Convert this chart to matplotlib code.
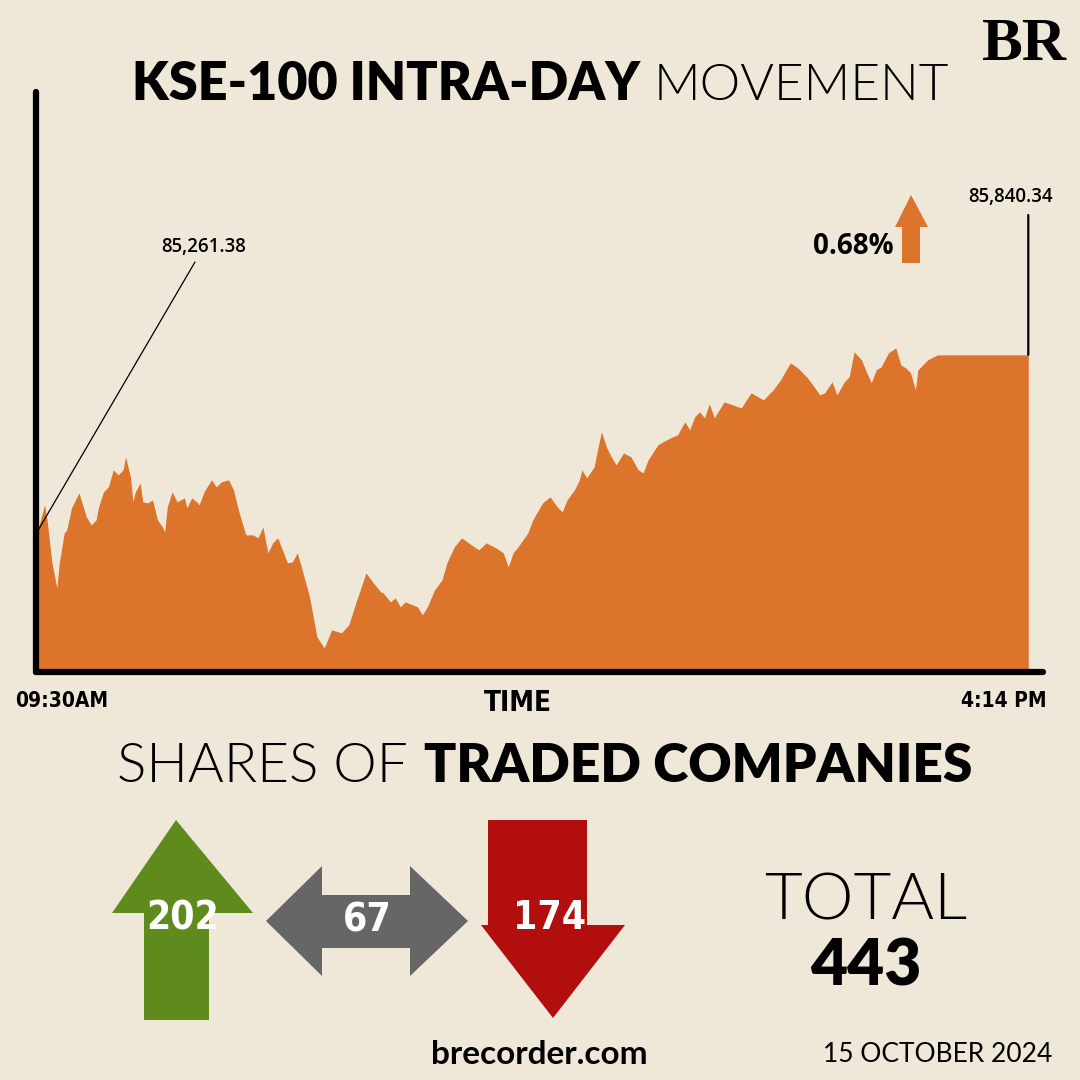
import matplotlib.pyplot as plt
from matplotlib.patches import Polygon

# KSE-100 intra-day, minutes after the 09:30 open
minutes = [0, 3, 4, 6, 8, 9, 11, 12, 14, 17, 20, 22, 24, 25, 27, 29, 31, 33, 35, 36,
           38, 39, 40, 42, 43, 45, 47, 49, 51, 52, 53, 55, 57, 60, 61, 63, 65, 66, 68, 71,
           73, 75, 78, 80, 82, 85, 88, 90, 92, 94, 96, 98, 102, 104, 106, 108, 111, 114, 117, 120,
           124, 127, 130, 134, 137, 140, 141, 144, 146, 148, 150, 153, 155, 157, 159, 162, 165, 167, 170, 173,
           177, 180, 183, 187, 190, 192, 194, 196, 200, 202, 206, 209, 212, 214, 216, 219, 221, 222, 224, 227,
           229, 230, 232, 234, 236, 239, 242, 245, 247, 249, 253, 255, 259, 261, 264, 266, 268, 270, 272, 274,
           276, 280, 287, 291, 296, 300, 303, 307, 310, 314, 317, 319, 321, 324, 326, 329, 331, 333, 336, 338,
           340, 342, 344, 347, 350, 352, 354, 356, 358, 359, 363, 367, 404]
index_vals = [85261.38, 85349.7, 85300.6, 85160.0, 85078.2, 85160.0, 85258.1, 85267.9, 85339.9, 85388.9,
              85310.4, 85284.3, 85300.6, 85343.1, 85392.2, 85408.5, 85464.1, 85447.8, 85464.1, 85506.7,
              85441.2, 85359.5, 85392.2, 85421.6, 85359.5, 85356.2, 85366.0, 85300.6, 85277.7, 85261.4,
              85343.1, 85392.2, 85359.5, 85372.5, 85339.9, 85372.5, 85359.5, 85349.7, 85392.2, 85431.4,
              85408.5, 85424.9, 85431.4, 85398.7, 85333.3, 85251.5, 85251.5, 85241.7, 85277.7, 85192.6,
              85225.3, 85241.7, 85160.0, 85163.2, 85192.6, 85137.0, 85048.7, 84917.9, 84881.9, 84940.8,
              84931.0, 84957.1, 85032.4, 85127.2, 85094.5, 85065.1, 85061.8, 85032.4, 85045.4, 85016.0,
              85032.4, 85022.6, 85016.0, 84989.8, 85016.0, 85071.6, 85104.3, 85160.0, 85212.3, 85241.7,
              85218.8, 85202.5, 85225.3, 85209.0, 85192.6, 85146.8, 85192.6, 85212.3, 85258.1, 85300.6,
              85356.2, 85375.8, 85343.1, 85326.8, 85366.0, 85398.7, 85431.4, 85464.1, 85438.0, 85473.9,
              85552.5, 85588.4, 85539.4, 85506.7, 85480.5, 85519.7, 85506.7, 85464.1, 85454.3, 85496.8,
              85545.9, 85555.7, 85572.1, 85578.6, 85621.1, 85595.0, 85637.5, 85653.9, 85634.2, 85680.0,
              85634.2, 85686.6, 85666.9, 85716.0, 85693.1, 85725.8, 85758.6, 85814.2, 85797.8, 85765.1,
              85732.4, 85709.5, 85716.0, 85752.0, 85709.5, 85752.0, 85768.4, 85850.2, 85824.0, 85784.7,
              85748.7, 85791.3, 85801.1, 85846.9, 85863.2, 85807.6, 85797.8, 85781.5, 85725.8, 85791.3,
              85824.0, 85840.34, 85840.34]

open_label = "85,261.38"
close_label = "85,840.34"
change_label = "0.68%"
time_labels = ["09:30AM", "4:14 PM"]

share_names = ["up", "unchanged", "down"]
share_counts = [202, 67, 174]
share_colors = ["#5f8a1c", "#666666", "#b20e0e"]

bg = "#efe8d8"
orange = "#dc742c"
bold_font = ["Lato", "DejaVu Sans"]
wide_font = ["Open Sans", "DejaVu Sans"]
narrow_font = ["DejaVu Sans"]

fig = plt.figure(figsize=(10.8, 10.8), dpi=100)
fig.patch.set_facecolor(bg)

# main area chart
ax = fig.add_axes([36 / 1080, 1 - 672 / 1080, 1007 / 1080, 580 / 1080])
ax.set_facecolor("none")
ax.fill_between(minutes, index_vals, 84700, color=orange, lw=0)
ax.set_xlim(-0.5, 410)
ax.set_ylim(84803, 86700)
ax.set_xticks([])
ax.set_yticks([])
for s in ["top", "right"]:
    ax.spines[s].set_visible(False)
for s in ["left", "bottom"]:
    ax.spines[s].set_linewidth(4.5)
    ax.spines[s].set_color("black")
    ax.spines[s].set_capstyle("round")

# open / close callouts
ax.annotate("", xy=(minutes[0], index_vals[0]), xytext=(195, 1080 - 262),
            textcoords="figure pixels",
            arrowprops=dict(arrowstyle="-", color="black", lw=0.9, shrinkA=0, shrinkB=0))
ax.annotate("", xy=(minutes[-1], index_vals[-1]), xytext=(minutes[-1], 1080 - 215),
            textcoords=("data", "figure pixels"),
            arrowprops=dict(arrowstyle="-", color="black", lw=1.6, shrinkA=0, shrinkB=0))

# overlay in pixel space for the decorations and texts
ov = fig.add_axes([0, 0, 1, 1])
ov.set_xlim(0, 1080)
ov.set_ylim(1080, 0)
ov.axis("off")
ov.patch.set_alpha(0)

ov.text(204, 247, open_label, ha="center", va="center", fontsize=13.5, fontweight=600, family=wide_font)
ov.text(1011, 197, close_label, ha="center", va="center", fontsize=13.5, fontweight=600, family=wide_font)
ov.text(894, 247, change_label, ha="right", va="center", fontsize=20, fontweight="bold", family=wide_font)
ov.add_patch(Polygon([(902, 263), (902, 227), (895, 227), (911, 195), (928, 227), (920, 227), (920, 263)],
                     closed=True, color=orange, lw=0))

# title
ov.text(640, 100, "KSE-100 INTRA-DAY", ha="right", va="baseline", fontsize=37.5, fontweight="heavy",
        family=bold_font)
ov.text(654, 100, "MOVEMENT", ha="left", va="baseline", fontsize=37, fontweight=300, family=bold_font)
ov.text(1024, 60, "BR", ha="center", va="baseline", fontsize=44, fontweight="bold",
        family=["Liberation Serif", "DejaVu Serif"])

# x labels
ov.text(15, 707, time_labels[0], ha="left", va="baseline", fontsize=15, fontweight="bold",
        family=narrow_font, fontstretch="condensed")
ov.text(1047, 707, time_labels[1], ha="right", va="baseline", fontsize=15, fontweight="bold",
        family=narrow_font, fontstretch="condensed")
ov.text(518, 711, "TIME", ha="center", va="baseline", fontsize=20, fontweight="bold",
        family=narrow_font, fontstretch="condensed")

# shares of traded companies
ov.text(408, 782, "SHARES OF", ha="right", va="baseline", fontsize=39.5, fontweight=300, family=bold_font)
ov.text(424, 782, "TRADED COMPANIES", ha="left", va="baseline", fontsize=38.3, fontweight="heavy",
        family=bold_font)

arrow_shapes = {
    "up": [(144, 1020), (144, 913), (112, 913), (176, 820), (253, 913), (209, 913), (209, 1020)],
    "unchanged": [(266, 921), (322, 866), (322, 895), (410, 895), (410, 866), (468, 921),
                  (410, 976), (410, 948), (322, 948), (322, 976)],
    "down": [(488, 820), (587, 820), (587, 925), (625, 925), (553, 1018), (481, 925), (488, 925)],
}
label_pos = {"up": (183, 918), "unchanged": (367, 921), "down": (550, 918)}
for name, count, col in zip(share_names, share_counts, share_colors):
    ov.add_patch(Polygon(arrow_shapes[name], closed=True, color=col, lw=0))
    ov.text(*label_pos[name], str(count), ha="center", va="center", color="white", fontsize=28,
            fontweight="bold", family=narrow_font, fontstretch="condensed")

ov.text(866, 920, "TOTAL", ha="center", va="baseline", fontsize=47, fontweight=300, family=bold_font)
ov.text(866, 985, str(sum(share_counts)), ha="center", va="baseline", fontsize=46, fontweight="heavy",
        family=bold_font)

ov.text(539, 1064, "brecorder.com", ha="center", va="baseline", fontsize=24, fontweight="bold",
        family=bold_font)
ov.text(938, 1062, "15 OCTOBER 2024", ha="center", va="baseline", fontsize=19, family=bold_font)

fig.savefig("out.png", dpi=100, facecolor=bg)
